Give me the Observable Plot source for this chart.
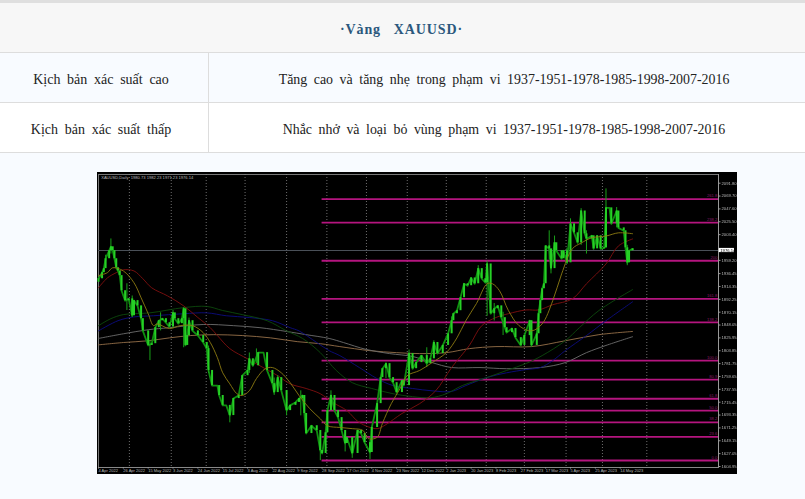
<!DOCTYPE html>
<html lang="vi">
<head>
<meta charset="utf-8">
<title>Vàng XAUUSD</title>
<script src="https://cdn.jsdelivr.net/npm/d3@7"></script>
<script src="https://cdn.jsdelivr.net/npm/@observablehq/plot@0.6"></script>
<style>
html,body{margin:0;padding:0;background:#f8fbff;}
body{width:805px;height:499px;overflow:hidden;position:relative;font-family:"Liberation Serif","Times New Roman",serif;color:#222;}
table{border-collapse:separate;border-spacing:0;width:805px;table-layout:fixed;border-top:3px solid #dfdfdf;font-size:14px;word-spacing:3.2px;}
col.k{width:209px;}
td{border-bottom:1px solid #dddddd;text-align:center;padding:5px 0 0 0;height:44px;box-sizing:content-box;white-space:nowrap;}
td.k{border-right:1px solid #dddddd;padding-right:6px;}
td.v{font-size:13.9px;word-spacing:3.1px;padding-right:6px;}
tr.t td{background:#f7f7f7;color:#2b587d;font-weight:bold;letter-spacing:0.9px;word-spacing:2px;padding-right:2px;}
tr.a td{background:#f8fbff;}
tr.b td{background:#ffffff;}
#chart{position:absolute;left:97px;top:172px;width:640px;height:302px;}
#chart svg{display:block;filter:blur(0.35px);}
</style>
</head>
<body>
<table>
<colgroup><col class="k"><col></colgroup>
<tr class="t"><td colspan="2">·Vàng&nbsp; XAUUSD·</td></tr>
<tr class="a"><td class="k">Kịch bản xác suất cao</td><td class="v">Tăng cao và tăng nhẹ trong phạm vi 1937-1951-1978-1985-1998-2007-2016</td></tr>
<tr class="b"><td class="k">Kịch bản xác suất thấp</td><td class="v">Nhắc nhở và loại bỏ vùng phạm vi 1937-1951-1978-1985-1998-2007-2016</td></tr>
</table>
<div id="chart"></div>
<script>
// Daily XAUUSD: session number and closing price.
const sessions = [0,2,3,4,6,7,8,9,10,11,12,13,15,17,19,20,22,24,25,28,30,32,34,36,38,40,42,43,45,47,48,49,50,51,53,56,59,61,62,64,67,68,70,72,74,76,79,81,84,85,87,90,93,95,98,99,101,103,106,108,111,113,115,116,117,120,123,125,126,128,129,131,133,135,137,139,140,143,146,148,150,153,154,157,159,160,162,164,166,168,171,172,175,177,179,182,185,187,189,191,194,197,199,200,202,204,206,208,210,212,214,216,218,219,221,223,225,227,229,230,233,235,238,240,243,244,247,248,249,250,251,252,254,255,257,258,261,262,264,266,268,270,272,274,275,278,279,281,283,285,286,288,289,292,293,296,297,298,299,301];
const closes = [1927.6,1938,1945,1962,1976,1982.5,1976,1962,1946.5,1941,1933,1907,1890,1893,1864,1890,1881,1859,1838,1813,1816,1843.5,1855.5,1859,1852,1845,1869,1859,1850.4,1859,1876,1813,1830,1855.5,1838,1830,1818,1807.5,1770,1744,1744,1727,1710,1710,1692.5,1721.7,1727,1761,1770,1790,1778,1800.6,1800.6,1770,1747.4,1732,1757.7,1735.4,1701,1710,1715,1721.7,1727,1696,1661.6,1675,1666.8,1632.4,1627.3,1663,1701,1727,1701,1689,1666.8,1644.5,1654.8,1627.3,1666.8,1661.6,1646,1629,1672,1713,1757.7,1773,1781.7,1757.7,1749,1732,1752.6,1744,1799,1773,1783.5,1795.5,1781.7,1790,1818,1799,1813,1833,1855.5,1867.5,1872.7,1895,1919,1915.6,1929,1919,1945,1927.6,1920.7,1953,1867.5,1876,1881,1860.7,1843.5,1835,1842,1826.4,1813,1830,1855.5,1813,1833,1867.5,1890,1910.4,1919,1984,1979,1945,1989.4,1975.7,1962,1975.7,1955,2022,2006.5,1989.4,2044,2004.8,1996,2001.4,1979,2001.4,1979,1980.8,2049.4,2049.4,2022,2044,2015,2010,1980.8,1955,1975.7,1979];
// Notable wicks: [session, low, high]
const wicks = [[7,1970,1996],[4,1950,1968],[16,1873,1919],[19,1861,1898],[29,1787,1821],[35,1838,1869],[42,1842,1873],[48,1809,1878],[51,1830,1860],[62,1765,1812],[74,1680,1700],[85,1765,1800],[89,1782,1807],[99,1727,1757],[101,1732,1761],[106,1692,1723],[114,1692,1735],[125,1615,1655],[131,1712,1735],[139,1630,1660],[143,1619,1653],[153,1617,1650],[162,1756,1783],[175,1770,1805],[185,1775,1809],[189,1792,1821],[199,1835,1862],[214,1920,1950],[219,1863,1958],[223,1855,1885],[228,1830,1870],[244,1810,1845],[248,1850,1875],[254,1960,2010],[255,1936,1960],[257,1965,2001],[264,1953,1980],[266,1985,2030.6],[272,1985,2048],[275,1970,2010],[286,1980,2082],[292,2015,2050],[298,1950,1985]];
// Moving averages: [session, price]
const maOlive = [[0,1933],[5,1938],[8,1946.5],[14,1941],[20,1920.7],[24,1895],[28,1867.5],[31,1847],[33,1850],[40,1842],[46,1847],[53,1847],[59,1835],[63,1818],[67,1792],[70,1766],[74,1747],[78,1730],[81,1727],[85,1735],[89,1756],[94,1773],[98,1775],[103,1766],[108,1749],[113,1727],[119,1704.5],[125,1687],[129,1675],[136,1672],[143,1670],[149,1667],[152,1653],[157,1655],[160,1679],[165,1713],[170,1739],[174,1761],[181,1770],[188,1783.5],[196,1800.6],[202,1826],[207,1855.5],[213,1885],[219,1919],[222,1919],[226,1907],[231,1873],[237,1847],[244,1838],[250,1850],[256,1890],[261,1936],[267,1979],[272,1989],[278,1998],[286,2001],[293,2006.5],[301,2005]];
const maRed = [[0,1912],[5,1929],[10,1938],[14,1943],[20,1941],[25,1927.6],[30,1912],[39,1898],[48,1881],[56,1861],[63,1843.5],[67,1830],[74,1807.5],[84,1790],[91,1778],[101,1761],[108,1747],[117,1739],[125,1730],[132,1715],[140,1701],[147,1680.5],[157,1670],[162,1677],[171,1696],[181,1713],[190,1735],[199,1775],[209,1813],[216,1847],[224,1861],[231,1867.5],[241,1874],[248,1874],[256,1883],[267,1893],[275,1919],[286,1953],[293,1984],[301,1996]];
const maGreen = [[0,1847],[7,1859],[14,1866],[29,1869],[48,1878],[61,1880],[70,1873],[81,1866],[95,1855.5],[106,1838],[115,1825],[125,1800.6],[134,1770],[143,1749],[154,1739],[166,1730],[177,1725],[187,1723],[196,1730],[205,1744],[219,1758],[230,1770],[241,1782],[250,1795.5],[263,1821],[271,1843.5],[282,1873],[301,1909]];
const maBlue = [[0,1838],[11,1855.5],[20,1862],[31,1864],[48,1867.5],[61,1869],[72,1864],[85,1861],[98,1855.5],[108,1843.5],[113,1838],[123,1818],[130,1804],[136,1795.5],[147,1775],[157,1756],[166,1744],[177,1739],[188,1735],[199,1734],[207,1744],[219,1758],[230,1766],[241,1771.5],[249,1775],[256,1787],[263,1804],[275,1830],[286,1855.5],[301,1888]];
const maGray = [[0,1825],[14,1833],[28,1840],[40,1843.5],[59,1849],[76,1847],[91,1843.5],[106,1837],[117,1831.5],[130,1825],[138,1818],[151,1806],[164,1799],[177,1794],[188,1783.5],[199,1775],[215,1775],[230,1773],[249,1775],[263,1783.5],[275,1800.6],[286,1813],[301,1828]];
const maTan = [[0,1814],[14,1818],[28,1821],[40,1826],[52,1830],[65,1831.5],[81,1830],[97,1826],[112,1819.5],[125,1816],[136,1811],[153,1804],[168,1800.6],[181,1799],[196,1800.6],[209,1807.5],[224,1811],[244,1811],[263,1821],[282,1831.5],[301,1837]];
// Fibonacci levels
const fibLabels = ["261.8","238.2","200","161.8","138.2","100.0","80.9","61.8","50.0","38.2","23.6","0.0"];
const fibPrices = [2064.5,2024.1,1958.5,1893,1852.5,1786.9,1754.2,1721.4,1701.1,1680.9,1655.8,1615.3];
const fibStart = 126;
// Axis labels
const priceTicks = [2091.80,2069.70,2047.60,2025.50,2003.40,1959.20,1936.45,1914.35,1892.25,1870.15,1848.05,1825.95,1803.85,1781.75,1759.65,1737.55,1715.45,1693.35,1671.25,1649.15,1627.05,1604.95];
const dateTickSessions = [0,14,28,42,56,70,84,98,112,126,140,154,168,182,196,210,224,238,252,266,280,294];
const dateTickLabels = ["4 Apr 2022","26 Apr 2022","15 May 2022","3 Jun 2022","24 Jun 2022","15 Jul 2022","3 Aug 2022","22 Aug 2022","9 Sep 2022","28 Sep 2022","17 Oct 2022","4 Nov 2022","23 Nov 2022","12 Dec 2022","2 Jan 2023","20 Jan 2023","8 Feb 2023","27 Feb 2023","17 Mar 2023","5 Apr 2023","25 Apr 2023","14 May 2023"];
const gridSessions = [17.4,41,60.7,82.6,106,128.7,151,174,196,218.5,240,263.5,284,309];
const lastPrice = 1976.14;
const headerText = "XAUUSD,Daily  1980.73 1982.23 1971.23 1976.14";

const candles = sessions.map((s, i) => ({s, open: i ? closes[i - 1] : closes[0] - 6, close: closes[i]}));
const wickRows = wicks.map(([s, low, high]) => ({s, low, high}));
const fibs = fibLabels.map((label, i) => ({label, price: fibPrices[i]}));
const closeRows = sessions.map((s, i) => ({s, close: closes[i]}));
const tinyFont = '"Liberation Sans",Arial,sans-serif';
const maLine = (rows, stroke, strokeWidth = 0.9) =>
  Plot.line(rows, {x: d => d[0], y: d => d[1], stroke, strokeWidth, curve: "catmull-rom"});

const xEnd = 349.4;
const chart = Plot.plot({
  width: 640, height: 302,
  marginLeft: 1, marginRight: 19, marginTop: 2, marginBottom: 7,
  style: {background: "#000", fontFamily: tinyFont, overflow: "visible"},
  x: {type: "linear", domain: [0, xEnd], range: [1, 621]},
  y: {domain: [1604.95, 2091.8], range: [294, 10.7]},
  marks: [
    Plot.frame({stroke: "#777", strokeWidth: 1, anchor: "top"}),
    Plot.frame({stroke: "#999", strokeWidth: 1, anchor: "right"}),
    Plot.frame({stroke: "#888", strokeWidth: 1, anchor: "bottom"}),
    Plot.frame({stroke: "#777", strokeWidth: 1, anchor: "left"}),
    Plot.ruleX(gridSessions, {stroke: "#8a8a8a", strokeWidth: 0.8, strokeDasharray: "1,2"}),
    Plot.ruleY([lastPrice], {x1: 0, x2: xEnd, stroke: "#4a5058", strokeWidth: 1}),
    Plot.ruleY(fibs, {y: "price", x1: fibStart, x2: xEnd, stroke: "#b5157f", strokeWidth: 1.8}),
    Plot.text(fibs, {x: xEnd - 0.6, y: "price", text: "label", textAnchor: "end", dy: -3.2, fontSize: 4.2, fill: "#8a1a68"}),
    maLine(maTan, "#96704a"),
    maLine(maGray, "#6e6e6e"),
    maLine(maBlue, "#0c0c80"),
    maLine(maGreen, "#0c4a0c"),
    maLine(maRed, "#801010"),
    Plot.line(closeRows, {x: "s", y: "close", stroke: "#0f8f0f", strokeWidth: 1.8}),
    Plot.ruleX(wickRows, {x: "s", y1: "low", y2: "high", stroke: "#18a018", strokeWidth: 1}),
    Plot.ruleX(candles, {x: "s", y1: "open", y2: "close", stroke: "#26d026", strokeWidth: 2}),
    maLine(maOlive, "#8d7c12"),
    Plot.axisY({anchor: "right", ticks: priceTicks, tickFormat: d => d.toFixed(2), tickSize: 1.5, tickPadding: 1.5, fontSize: 4.2, stroke: "#999", color: "#b8b8b8", label: null}),
    Plot.axisX({anchor: "bottom", ticks: dateTickSessions, tickFormat: d => dateTickLabels[dateTickSessions.indexOf(d)], tickSize: 1.5, tickPadding: 0.5, fontSize: 4, textAnchor: "start", stroke: "#999", color: "#b8b8b8", label: null}),
    Plot.rectY([lastPrice], {x1: xEnd + 0.4, x2: 358.4, y1: lastPrice - 3.6, y2: lastPrice + 3.6, fill: "#fff"}),
    Plot.text([lastPrice], {x: xEnd + 1, y: lastPrice, text: d => d.toFixed(2), textAnchor: "start", fontSize: 4.2, fill: "#000"}),
    Plot.text([headerText], {x: 1.5, y: 2091.8, dy: -6, text: d => d, textAnchor: "start", fontSize: 4.1, fill: "#bdbdbd"})
  ]
});
document.getElementById("chart").append(chart);
</script>
</body>
</html>
